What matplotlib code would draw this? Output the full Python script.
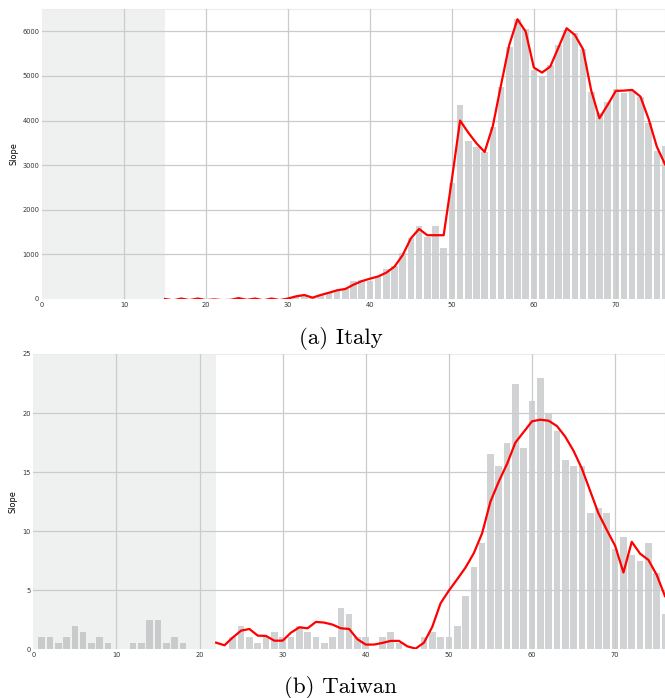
import matplotlib
matplotlib.use("Agg")
import matplotlib.pyplot as plt
import numpy as np

# ---------------- data ----------------
days = list(range(1, 77))

italy_bars = [0, 0, 0, 0, 0, 0, 0, 8, 10, 0, 0, 0, 0, 0,           # 1-14
              5, 0, 5, 0, 5, 0, 0, 0, 0, 8, 0, 5, 0, 5, 0, 10,      # 15-30
              50, 90, 50, 100, 150, 200, 215, 400, 425, 400,        # 31-40
              515, 670, 750, 1020, 1360, 1637, 1383, 1637, 1150, 2593,  # 41-50
              4342, 3535, 3408, 3300, 3864, 4753, 5650, 6270, 6054, 5134,  # 51-60
              4985, 5247, 5695, 6031, 5957, 5598, 4649, 4163, 4410, 4716,  # 61-70
              4626, 4671, 4537, 3954, 3318, 3438]                   # 71-76

italy_days_line = list(range(15, 77))
italy_line = [0, -30, 10, -25, 10, -25, -10, -25, -20, 20, -20, 10, -30, 10, -25, 10,  # 15-30
              60, 90, 30, 90, 140, 195, 225, 320, 400, 455,                         # 31-40
              505, 590, 725, 985, 1360, 1570, 1430, 1430, 1430, 2680,               # 41-50
              4000, 3730, 3490, 3296, 3880, 4800, 5695, 6270, 5994, 5187,           # 51-60
              5075, 5209, 5635, 6069, 5919, 5598, 4671, 4051, 4350, 4664,           # 61-70
              4671, 4686, 4537, 4036, 3416, 3020]                                   # 71-76

taiwan_bars = [1.0, 1.0, 0.5, 1.0, 2.0, 1.5, 0.5, 1.0, 0.5, 0, 0, 0.5, 0.5, 2.5, 2.5,  # 1-15
               0.5, 1.0, 0.5, 0, 0, 0, 0, 0,                                          # 16-23
               1.0, 2.0, 1.0, 0.5, 1.0, 1.5, 1.0, 1.0, 2.0, 1.5,                      # 24-33
               1.0, 0.5, 1.0, 3.5, 3.0, 1.0, 1.0, 0, 1.0, 1.5,                        # 34-43
               0.5, 0, 0, 1.0, 1.5, 1.0, 1.0, 2.0, 4.5, 7.0,                          # 44-53
               9.0, 16.5, 15.5, 17.5, 22.5, 17.0, 21.0, 23.0, 20.0, 18.5,             # 54-63
               16.0, 15.5, 15.5, 11.5, 12.0, 11.5, 8.5, 9.5, 8.0, 7.5,                # 64-73
               9.0, 6.5, 3.0]                                                         # 74-76

taiwan_days_line = list(range(22, 77))
taiwan_line = [0.56, 0.34, 1.0, 1.58, 1.72, 1.16, 1.13, 0.73, 0.73,          # 22-30
               1.41, 1.86, 1.78, 2.32, 2.26, 2.09, 1.78, 1.72, 0.85, 0.40,   # 31-40
               0.40, 0.54, 0.71, 0.71, 0.25, 0.06, 0.56, 1.9, 3.9, 4.97,     # 41-50
               5.93, 6.92, 8.14, 9.83, 12.5, 14.2, 15.7, 17.5, 18.4, 19.3,   # 51-60
               19.44, 19.35, 18.9, 18.0, 16.8, 15.3, 13.4, 11.5, 10.1, 8.76, # 61-70
               6.5, 9.1, 8.1, 7.57, 6.3, 4.5]                                # 71-76

italy_yticks = [0, 1000, 2000, 3000, 4000, 5000, 6000]
taiwan_yticks = [0, 5, 10, 15, 20, 25]
xticks = [0, 10, 20, 30, 40, 50, 60, 70]

# ---------------- style ----------------
W, H = 665, 698
fig = plt.figure(figsize=(W / 100, H / 100), dpi=100)

GRID = "#cbcbcb"
BAR = (0.60, 0.61, 0.63)
SHADE = "#eff0f0"


def panel(rect, bars, lx, ly, shade_end, ylim, yticks):
    ax = fig.add_axes(rect)
    ax.set_facecolor("white")
    ax.axvspan(0, shade_end, color=SHADE, zorder=0, lw=0)
    ax.set_axisbelow(False)
    ax.grid(True, color=GRID, lw=0.9, zorder=1)
    ax.bar(days, bars, width=0.8, color=BAR, alpha=0.45, zorder=2, lw=0)
    ax.plot(lx, ly, color="red", lw=1.6, zorder=3)
    ax.set_xlim(0, 76)
    ax.set_ylim(*ylim)
    ax.set_xticks(xticks)
    ax.set_yticks(yticks)
    ax.tick_params(length=0, labelsize=4.8, labelcolor="#333333", pad=2)
    for side in ("top", "right"):
        ax.spines[side].set_color("#ececec")
        ax.spines[side].set_linewidth(0.8)
    # edges stay clean: gridlines lying on the frame are hidden
    for side in ("left", "bottom"):
        ax.spines[side].set_visible(False)
    for gl, val in zip(ax.get_ygridlines(), yticks):
        if val in (ylim[0], ylim[1]):
            gl.set_visible(False)
    ax.get_xgridlines()[0].set_visible(False)
    ax.set_ylabel("Slope", fontsize=5.9, labelpad=3)
    return ax


panel([42 / W, 1 - 299 / H, (W - 42) / W, (299 - 9) / H],
      italy_bars, italy_days_line, italy_line, 15, (0, 6500), italy_yticks)
panel([33.3 / W, 1 - 649.3 / H, (W - 33.3) / W, (649.3 - 354) / H],
      taiwan_bars, taiwan_days_line, taiwan_line, 22, (0, 25), taiwan_yticks)

fig.text(341 / W, 1 - 344 / H, "(a) Italy", family="cmr10", fontsize=16.5,
         ha="center", va="baseline")
fig.text(341 / W, 1 - 693 / H, "(b) Taiwan", family="cmr10", fontsize=16.5,
         ha="center", va="baseline")

fig.savefig("out.png", dpi=100)
